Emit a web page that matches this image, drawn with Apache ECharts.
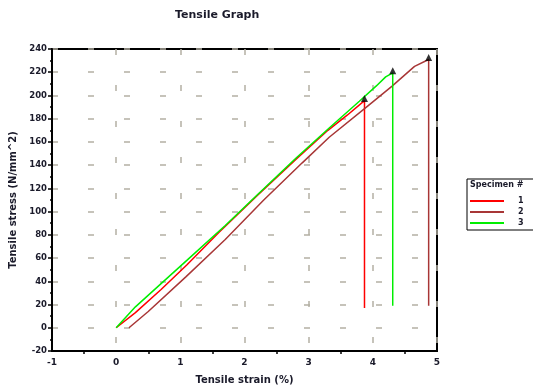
<!DOCTYPE html>
<html>
<head>
<meta charset="utf-8">
<script src="https://cdn.jsdelivr.net/npm/echarts@6/dist/echarts.min.js"></script>
<style>
  html, body { margin: 0; padding: 0; background: #fff; }
  #chart { width: 533px; height: 391px; }
</style>
</head>
<body>
<div id="chart"></div>
<script>
// specimen data (strain %, stress N/mm^2)
const specimenNames = ['1', '2', '3']
const strain1 = [0, 0.3, 0.7, 1.1, 1.6, 2.2, 2.8, 3.3, 3.6, 3.87, 3.87]
const stress1 = [0, 13, 33, 54, 82, 114, 145, 170, 183, 195.6, 17]
const strain2 = [0.2, 0.5, 1.09, 1.7, 2.3, 2.9, 3.32, 3.9, 4.3, 4.65, 4.87, 4.87]
const stress2 = [0, 14, 44, 76, 110, 142, 164, 190, 208, 225, 231, 19]
const strain3 = [0, 0.3, 0.7, 1.14, 1.7, 2.23, 2.8, 3.32, 3.79, 4.05, 4.2, 4.31, 4.31]
const stress3 = [0, 18, 38, 60, 88, 116, 146, 172, 195, 208, 216, 219.5, 19]
// break points (peaks)
const peakStrain = [3.87, 4.87, 4.31]
const peakStress = [195.6, 231, 219.5]

const colors = ['#ff0000', '#a83636', '#00ee00']
const fontFam = 'DejaVu Sans'
const textColor = '#1a1a2a'

const pairs = (xs, ys) => xs.map((x, i) => [x, ys[i]])

const chart = echarts.init(document.getElementById('chart'))

const lineSeries = [[strain1, stress1], [strain2, stress2], [strain3, stress3]].map((d, i) => {
  return {
    name: specimenNames[i],
    type: 'line',
    data: pairs(d[0], d[1]),
    showSymbol: false,
    silent: true,
    lineStyle: {color: colors[i], width: 1.5},
    itemStyle: {color: colors[i]},
    z: 3
  }
})

const option = {
  animation: false,
  title: [{
    text: 'Tensile Graph',
    left: 170,
    top: 5,
    textStyle: {fontSize: 11, fontWeight: 'bold', color: textColor, fontFamily: fontFam}
  }],
  graphic: [{
    type: 'text',
    left: 470,
    top: 181,
    style: {text: 'Specimen #', fontSize: 8, fontWeight: 'bold', fill: textColor, fontFamily: fontFam}
  }],
  legend: {
    data: specimenNames,
    orient: 'vertical',
    left: 467,
    top: 179,
    width: 66,
    borderColor: '#000',
    borderWidth: 1,
    padding: [18, 20, 3, 3],
    itemWidth: 34,
    itemHeight: 2,
    itemGap: 3,
    icon: 'rect',
    textStyle: {fontSize: 8, fontWeight: 'bold', color: textColor, fontFamily: fontFam, padding: [0, 0, 0, 9]}
  },
  grid: {
    left: 52,
    right: 96,
    top: 49,
    bottom: 40,
    show: true,
    borderColor: '#000',
    borderWidth: 2
  },
  xAxis: {
    type: 'value',
    min: -1,
    max: 5,
    interval: 1,
    name: 'Tensile strain (%)',
    nameLocation: 'middle',
    nameGap: 24,
    nameTextStyle: {fontSize: 10, fontWeight: 'bold', color: textColor, fontFamily: fontFam},
    axisLine: {onZero: false, lineStyle: {color: '#000', width: 2}},
    axisTick: {show: false},
    minorTick: {show: true, splitNumber: 2, length: 3, lineStyle: {color: '#000', width: 1.5}},
    axisLabel: {fontSize: 9, fontWeight: 'bold', color: textColor, fontFamily: fontFam, margin: 7},
    splitLine: {show: true, lineStyle: {color: '#b4b0a4', width: 1.5, type: [6, 30]}}
  },
  yAxis: {
    type: 'value',
    min: -20,
    max: 240,
    interval: 20,
    name: 'Tensile stress (N/mm^2)',
    nameLocation: 'middle',
    nameGap: 33,
    nameTextStyle: {fontSize: 10, fontWeight: 'bold', color: textColor, fontFamily: fontFam},
    axisLine: {onZero: false, lineStyle: {color: '#000', width: 2}},
    axisTick: {show: true, length: 4, lineStyle: {color: '#000', width: 1.5}},
    minorTick: {show: true, splitNumber: 2, length: 2, lineStyle: {color: '#000', width: 1.5}},
    axisLabel: {fontSize: 8.5, fontWeight: 'bold', color: textColor, fontFamily: fontFam, margin: 5},
    splitLine: {show: true, lineStyle: {color: '#b4b0a4', width: 1.5, type: [6, 30]}}
  },
  series: [
    ...lineSeries,
    {
      name: 'peaks',
      type: 'scatter',
      data: pairs(peakStrain, peakStress),
      symbol: 'triangle',
      symbolSize: 7,
      symbolOffset: [0, -2],
      itemStyle: {color: '#000'},
      silent: true,
      z: 4
    }
  ]
}

chart.setOption(option)
</script>
</body>
</html>
